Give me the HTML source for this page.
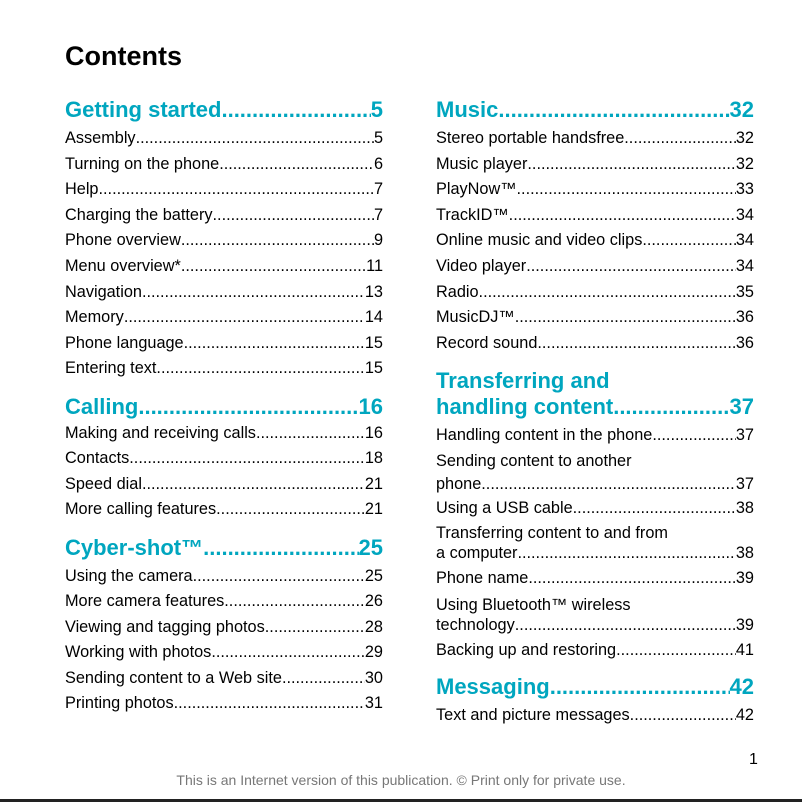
<!DOCTYPE html>
<html><head><meta charset="utf-8"><style>
body{margin:0;width:802px;height:802px;background:#fff;position:relative;overflow:hidden;font-family:"Liberation Sans",Arial,sans-serif;color:#000}
.t{position:absolute;left:65px;top:38px;font-size:27px;font-weight:bold;line-height:36px}
.r{position:absolute;width:318px;display:flex;font-size:16.3px;line-height:20px;height:20px;white-space:nowrap}
.r .d{flex:1;overflow:hidden;letter-spacing:0px}
.r .d::before{content:"................................................................................................................................................"}
.h{font-size:22px;font-weight:bold;color:#00a6bf;line-height:28px;height:28px}
.p{position:absolute;width:318px;font-size:16.3px;line-height:20px;white-space:nowrap}
.ph{position:absolute;font-size:22px;font-weight:bold;color:#00a6bf;line-height:28px;white-space:nowrap}
</style></head><body>
<div class="t">Contents</div>

<div class="r h" style="left:65px;top:96px"><span>Getting started</span><span class="d"></span><span>5</span></div>
<div class="r" style="left:65px;top:128px"><span>Assembly</span><span class="d"></span><span>5</span></div>
<div class="r" style="left:65px;top:154px"><span>Turning on the phone</span><span class="d"></span><span>6</span></div>
<div class="r" style="left:65px;top:179px"><span>Help</span><span class="d"></span><span>7</span></div>
<div class="r" style="left:65px;top:205px"><span>Charging the battery</span><span class="d"></span><span>7</span></div>
<div class="r" style="left:65px;top:230px"><span>Phone overview</span><span class="d"></span><span>9</span></div>
<div class="r" style="left:65px;top:256px"><span>Menu overview*</span><span class="d"></span><span>11</span></div>
<div class="r" style="left:65px;top:282px"><span>Navigation</span><span class="d"></span><span>13</span></div>
<div class="r" style="left:65px;top:307px"><span>Memory</span><span class="d"></span><span>14</span></div>
<div class="r" style="left:65px;top:333px"><span>Phone language</span><span class="d"></span><span>15</span></div>
<div class="r" style="left:65px;top:358px"><span>Entering text</span><span class="d"></span><span>15</span></div>
<div class="r h" style="left:65px;top:393px"><span>Calling</span><span class="d"></span><span>16</span></div>
<div class="r" style="left:65px;top:423px"><span>Making and receiving calls</span><span class="d"></span><span>16</span></div>
<div class="r" style="left:65px;top:448px"><span>Contacts</span><span class="d"></span><span>18</span></div>
<div class="r" style="left:65px;top:474px"><span>Speed dial</span><span class="d"></span><span>21</span></div>
<div class="r" style="left:65px;top:499px"><span>More calling features</span><span class="d"></span><span>21</span></div>
<div class="r h" style="left:65px;top:534px"><span>Cyber-shot™ </span><span class="d"></span><span>25</span></div>
<div class="r" style="left:65px;top:566px"><span>Using the camera</span><span class="d"></span><span>25</span></div>
<div class="r" style="left:65px;top:591px"><span>More camera features</span><span class="d"></span><span>26</span></div>
<div class="r" style="left:65px;top:617px"><span>Viewing and tagging photos</span><span class="d"></span><span>28</span></div>
<div class="r" style="left:65px;top:642px"><span>Working with photos</span><span class="d"></span><span>29</span></div>
<div class="r" style="left:65px;top:668px"><span>Sending content to a Web site</span><span class="d"></span><span>30</span></div>
<div class="r" style="left:65px;top:693px"><span>Printing photos</span><span class="d"></span><span>31</span></div>

<div class="r h" style="left:436px;top:96px"><span>Music </span><span class="d"></span><span>32</span></div>
<div class="r" style="left:436px;top:128px"><span>Stereo portable handsfree</span><span class="d"></span><span>32</span></div>
<div class="r" style="left:436px;top:154px"><span>Music player</span><span class="d"></span><span>32</span></div>
<div class="r" style="left:436px;top:179px"><span>PlayNow™</span><span class="d"></span><span>33</span></div>
<div class="r" style="left:436px;top:205px"><span>TrackID™ </span><span class="d"></span><span>34</span></div>
<div class="r" style="left:436px;top:230px"><span>Online music and video clips</span><span class="d"></span><span>34</span></div>
<div class="r" style="left:436px;top:256px"><span>Video player</span><span class="d"></span><span>34</span></div>
<div class="r" style="left:436px;top:282px"><span>Radio </span><span class="d"></span><span>35</span></div>
<div class="r" style="left:436px;top:307px"><span>MusicDJ™</span><span class="d"></span><span>36</span></div>
<div class="r" style="left:436px;top:333px"><span>Record sound </span><span class="d"></span><span>36</span></div>
<div class="ph" style="left:436px;top:367px">Transferring and</div>
<div class="r h" style="left:436px;top:393px"><span>handling content</span><span class="d"></span><span>37</span></div>
<div class="r" style="left:436px;top:425px"><span>Handling content in the phone</span><span class="d"></span><span>37</span></div>
<div class="p" style="left:436px;top:451px">Sending content to another</div>
<div class="r" style="left:436px;top:474px"><span>phone</span><span class="d"></span><span>37</span></div>
<div class="r" style="left:436px;top:498px"><span>Using a USB cable</span><span class="d"></span><span>38</span></div>
<div class="p" style="left:436px;top:523px">Transferring content to and from</div>
<div class="r" style="left:436px;top:543px"><span>a computer</span><span class="d"></span><span>38</span></div>
<div class="r" style="left:436px;top:568px"><span>Phone name</span><span class="d"></span><span>39</span></div>
<div class="p" style="left:436px;top:595px">Using Bluetooth™ wireless</div>
<div class="r" style="left:436px;top:615px"><span>technology</span><span class="d"></span><span>39</span></div>
<div class="r" style="left:436px;top:640px"><span>Backing up and restoring</span><span class="d"></span><span>41</span></div>
<div class="r h" style="left:436px;top:673px"><span>Messaging</span><span class="d"></span><span>42</span></div>
<div class="r" style="left:436px;top:705px"><span>Text and picture messages</span><span class="d"></span><span>42</span></div>

<div style="position:absolute;left:749px;top:750px;font-size:16px;line-height:20px">1</div>
<div style="position:absolute;left:0;width:802px;text-align:center;top:771px;font-size:14px;color:#777;line-height:18px">This is an Internet version of this publication. © Print only for private use.</div>
<div style="position:absolute;left:0;top:799px;width:802px;height:3px;background:#222"></div>
</body></html>
